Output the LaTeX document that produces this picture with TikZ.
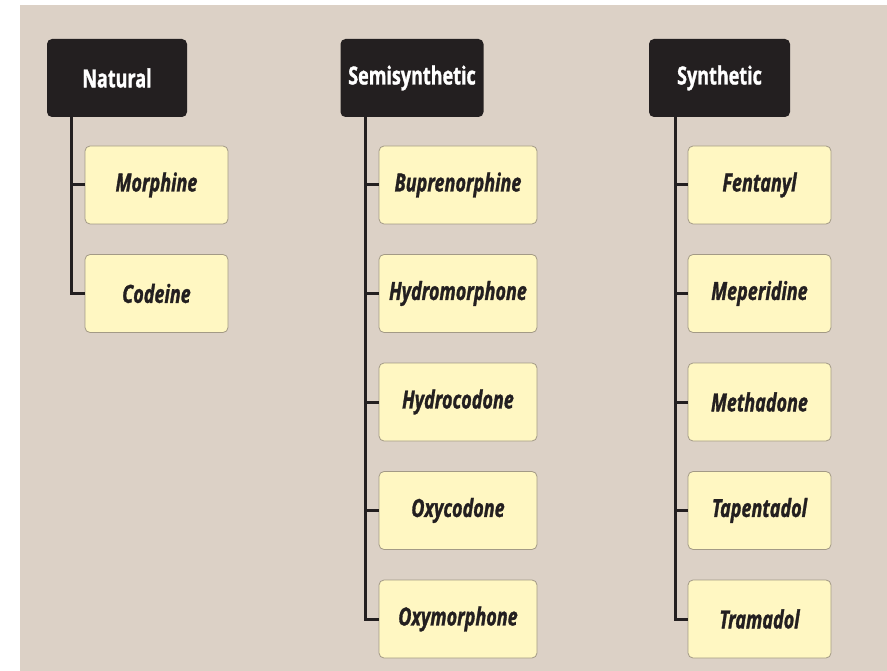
\documentclass[tikz,border=0pt]{standalone}
\usepackage{fontspec}
\setmainfont{Open Sans}
\newfontfamily\condbold[FakeStretch=0.72,FakeBold=1.2]{Open Sans Bold}
\newfontfamily\condbolditalic[FakeStretch=0.72,FakeBold=1.2]{Open Sans Bold Italic}
\definecolor{bgbeige}{HTML}{DCD1C6}
\definecolor{inkdark}{HTML}{231F20}
\definecolor{boxfill}{HTML}{FFF7C2}
\definecolor{boxline}{HTML}{A39A86}
\tikzset{
  header/.style={fill=inkdark, rounded corners=5pt, minimum height=78pt,
    text=white, font=\condbold\fontsize{25}{28}\selectfont, inner sep=0pt},
  drugbox/.style={fill=boxfill, draw=boxline, line width=0.8pt, rounded corners=5pt,
    minimum height=78pt, text=inkdark, font=\condbolditalic\fontsize{25}{28}\selectfont, inner sep=0pt},
  conn/.style={draw=inkdark, line width=3pt}
}
\begin{document}
\begin{tikzpicture}[x=1pt,y=-1pt]
\fill[white] (0,0) rectangle (887,671);
\fill[bgbeige] (20,5) rectangle (887,671);
% headers
\node[header, minimum width=140pt] (h1) at (117,78) {Natural};
\node[header, minimum width=143pt] (h2) at (412,78) {Semisynthetic};
\node[header, minimum width=141pt] (h3) at (719.5,78) {Synthetic};
% column 1
\node[drugbox, minimum width=143pt] (a1) at (156.5,185) {Morphine};
\node[drugbox, minimum width=143pt] (a2) at (156.5,293.5) {Codeine};
% column 2
\node[drugbox, minimum width=158pt] (b1) at (458,185) {Buprenorphine};
\node[drugbox, minimum width=158pt] (b2) at (458,293.5) {Hydromorphone};
\node[drugbox, minimum width=158pt] (b3) at (458,402) {Hydrocodone};
\node[drugbox, minimum width=158pt] (b4) at (458,510.5) {Oxycodone};
\node[drugbox, minimum width=158pt] (b5) at (458,619) {Oxymorphone};
% column 3
\node[drugbox, minimum width=143pt] (c1) at (759.5,185) {Fentanyl};
\node[drugbox, minimum width=143pt] (c2) at (759.5,293.5) {Meperidine};
\node[drugbox, minimum width=143pt] (c3) at (759.5,402) {Methadone};
\node[drugbox, minimum width=143pt] (c4) at (759.5,510.5) {Tapentadol};
\node[drugbox, minimum width=143pt] (c5) at (759.5,619) {Tramadol};
% stems
\coordinate (s1) at (71,117);
\coordinate (s2) at (365,117);
\coordinate (s3) at (675,117);
\draw[conn] (s1) |- (a2.west);
\draw[conn] (s1 |- a1.west) -- (a1.west);
\draw[conn] (s2) |- (b5.west);
\foreach \n in {b1,b2,b3,b4} \draw[conn] (s2 |- \n.west) -- (\n.west);
\draw[conn] (s3) |- (c5.west);
\foreach \n in {c1,c2,c3,c4} \draw[conn] (s3 |- \n.west) -- (\n.west);
\end{tikzpicture}
\end{document}
